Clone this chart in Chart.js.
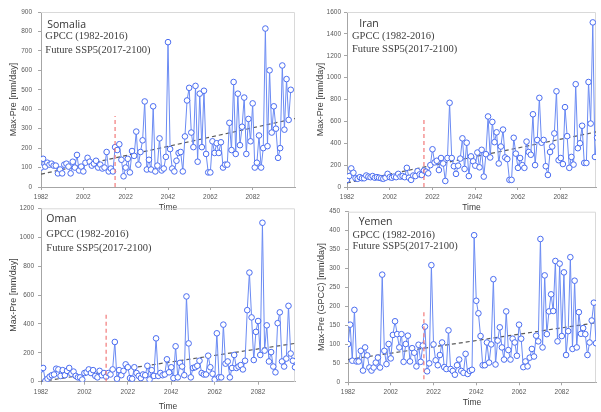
<!DOCTYPE html>
<html>
<head>
<meta charset="utf-8">
<script src="https://cdn.jsdelivr.net/npm/chart.js@4"></script>
<style>
    body { margin: 0; background: #fff; width: 601px; height: 412px; position: relative; overflow: hidden; }
    canvas { position: absolute; }
</style>
</head>
<body>
<canvas id="somalia" width="300" height="214" style="left:0;top:0"></canvas>
<canvas id="iran" width="301" height="214" style="left:300px;top:0"></canvas>
<canvas id="oman" width="300" height="212" style="left:0;top:200px"></canvas>
<canvas id="yemen" width="301" height="212" style="left:300px;top:200px"></canvas>
<script>
(function () {
    'use strict';

    // YEARS 1982-2100, ONE VALUE PER YEAR
    var years = [];
    for (var yr = 1982; yr <= 2100; yr++) { years.push(yr); }
    var xTicks = [1982, 2002, 2022, 2042, 2062, 2082];

    var somaliaMaxPre = [100, 145, 105, 125, 115, 120, 110, 110, 70, 90, 70, 115, 120, 105, 70, 130, 100, 165, 85, 105,
        80, 125, 150, 130, 110, 120, 135, 100, 115, 95, 100, 180, 80, 95, 80,
        205, 190, 220, 140, 55, 100, 145, 75, 185, 160, 285, 115, 180, 240, 440, 90, 140, 90, 415, 80,
        110, 250, 85, 95, 155, 745, 195, 95, 80, 135, 175, 180, 80, 260, 445, 510, 280, 205, 520, 130,
        480, 205, 495, 170, 75, 75, 235, 175, 225, 175, 230, 100, 115, 115, 330, 190, 540, 170, 480, 215,
        310, 460, 170, 350, 235, 430, 100, 125, 265, 100, 200, 815, 210, 600, 280, 415, 300, 150, 200, 625,
        295, 555, 345, 500];

    var iranMaxPre = [65, 100, 170, 130, 80, 75, 90, 80, 80, 105, 95, 90, 100, 85, 90, 85, 80, 75, 85, 120,
        90, 85, 95, 90, 120, 95, 100, 90, 175, 85, 65, 105, 100, 145, 115,
        110, 150, 140, 125, 200, 345, 225, 240, 155, 265, 215, 55, 265, 770, 265, 190, 120, 195, 260, 445,
        165, 405, 100, 280, 235, 195, 315, 180, 340, 95, 300, 645, 270, 595, 410, 500, 215, 370, 525, 270,
        255, 65, 65, 450, 305, 175, 265, 200, 175, 415, 320, 295, 665, 200, 430, 815, 405, 430, 190, 110,
        320, 370, 490, 875, 245, 265, 210, 730, 465, 175, 275, 205, 940, 355, 400, 560, 220, 220, 960, 580,
        1505, 275, 450, 230];

    var omanMaxPre = [85, 95, 5, 20, 35, 45, 50, 90, 85, 40, 80, 45, 75, 95, 55, 70, 40, 30, 30, 15,
        60, 65, 85, 60, 80, 40, 30, 75, 45, 60, 35,
        60, 50, 85, 275, 20, 80, 45, 75, 120, 100, 25, 20, 100, 60, 40, 25, 50, 45, 110, 15,
        80, 40, 300, 40, 60, 45, 50, 155, 65, 100, 25, 245, 30, 130, 105, 45, 590, 265, 30, 95,
        100, 110, 145, 60, 50, 50, 180, 100, 55, 15, 335, 30, 30, 395, 125, 140, 30, 95, 185, 95,
        105, 115, 85, 145, 495, 755, 445, 150, 345, 420, 185, 1100, 215, 390, 140, 205, 105, 65, 405, 480,
        140, 105, 160, 525, 195, 145, 100, 120];

    var yemenMaxPre = [101, 152, 57, 191, 55, 55, 83, 31, 92, 71, 39, 31, 39, 52, 65, 39, 284, 83, 48, 101,
        63, 125, 161, 127, 92, 127, 54, 101, 123, 55, 90, 78, 42, 99, 54, 97, 147, 29, 50, 309,
        100, 58, 45, 72, 105, 40, 35, 137, 35, 30, 20, 45, 60, 30, 25, 75, 22, 30, 33, 388,
        215, 182, 122, 45, 45, 105, 52, 100, 272, 47, 110, 145, 92, 60, 187, 85, 60, 115, 105, 70,
        152, 115, 40, 55, 42, 65, 88, 68, 123, 108, 378, 92, 282, 127, 187, 232, 188, 320, 108, 313,
        122, 290, 72, 135, 330, 88, 268, 92, 185, 128, 143, 127, 72, 105, 163, 210, 103, 48, 60];

    // LINEAR TRENDS (START / END) AND THE 2016 SPLIT MARKER
    var somaliaTrend = [[1982, 66], [2102, 352]];
    var iranTrend = [[1982, 38], [2099, 505]];
    var omanTrend = [[1982, 2], [2099, 265]];
    var yemenTrend = [[1982, 60], [2098, 157]];

    var somaliaSplit = [[2017, 0], [2017, 365]];
    var iranSplit = [[2018, 0], [2018, 630]];
    var omanSplit = [[2012, 0], [2012, 470]];
    var yemenSplit = [[2017.5, 8], [2017.5, 190]];

    var LINE = '#6b8bf3';
    var MARK = '#4a6cf0';
    var AXIS = '#a6a6a6';
    var TEXT = '#404040';

    function pts(pairs) {
        return pairs.map(function (p) { return { x: p[0], y: p[1] }; });
    }

    // FRAME AROUND PLOT AREA + COUNTRY / PERIOD NOTES
    var panelText = {
        id: 'panelText',
        beforeDatasetsDraw: function (chart) {
            var a = chart.chartArea, ctx = chart.ctx;
            ctx.save();
            ctx.strokeStyle = '#d9d9d9';
            ctx.lineWidth = 1;
            ctx.beginPath();
            ctx.moveTo(a.left, a.top + 0.5);
            ctx.lineTo(a.right - 0.5, a.top + 0.5);
            ctx.lineTo(a.right - 0.5, a.bottom);
            ctx.stroke();
            ctx.restore();
        },
        afterDraw: function (chart) {
            var o = chart.options.plugins.panelText;
            var a = chart.chartArea, ctx = chart.ctx;
            ctx.save();
            ctx.fillStyle = '#333';
            ctx.textBaseline = 'middle';
            ctx.font = '10.5px "Open Sans"';
            ctx.fillText(o.name, a.left + o.nx, a.top + o.ny);
            ctx.fillStyle = TEXT;
            ctx.font = '10.5px "Liberation Serif"';
            ctx.fillText('GPCC (1982-2016)', a.left + o.gx, a.top + o.gy);
            ctx.fillText('Future SSP5(2017-2100)', a.left + o.gx, a.top + o.fy);
            ctx.restore();
        }
    };

    function panel(id, values, o) {
        var series = values.map(function (v, i) { return { x: years[i], y: v }; });
        var tickFont = { family: 'Liberation Sans', size: 6.5 };

        new Chart(document.getElementById(id), {
            type: 'line',
            data: {
                datasets: [
                    {
                        data: series, borderColor: LINE, borderWidth: 1, tension: 0,
                        pointRadius: 2.8, pointBorderWidth: 1, pointBackgroundColor: '#fff',
                        pointBorderColor: MARK, order: 1
                    },
                    {
                        data: pts(o.trend), borderColor: '#5a5a5a', borderDash: [4, 3],
                        borderWidth: 1.2, pointRadius: 0, order: 2
                    },
                    {
                        data: pts(o.split), borderColor: '#f27a7a', borderDash: [4, 3],
                        borderWidth: 1.2, pointRadius: 0, order: 0
                    }
                ]
            },
            options: {
                responsive: false,
                animation: false,
                layout: { padding: { top: o.top, right: 0, bottom: 0, left: 0 } },
                plugins: {
                    legend: { display: false },
                    tooltip: { enabled: false },
                    panelText: o.text
                },
                scales: {
                    x: {
                        type: 'linear', min: 1982, max: o.xMax,
                        afterBuildTicks: function (s) {
                            s.ticks = xTicks.map(function (v) { return { value: v }; });
                        },
                        afterFit: function (s) { s.height = o.xH; },
                        ticks: {
                            callback: function (v) { return String(v); },
                            font: tickFont, color: '#595959', padding: 3.5,
                            maxRotation: 0, autoSkip: false
                        },
                        grid: { drawOnChartArea: false, tickLength: 3, color: AXIS },
                        border: { color: AXIS },
                        title: {
                            display: true, text: 'Time', color: '#3a3a3a',
                            font: { family: 'Liberation Sans', size: 8.5 },
                            padding: { top: 0, bottom: o.timePad }
                        }
                    },
                    y: {
                        min: 0, max: o.yMax,
                        afterFit: function (s) { s.width = o.yW; },
                        ticks: {
                            stepSize: o.step,
                            callback: function (v) { return String(v); },
                            font: tickFont, color: '#595959', padding: o.yPad
                        },
                        grid: { drawOnChartArea: false, tickLength: 3, color: AXIS },
                        border: { color: AXIS },
                        title: {
                            display: true, text: o.yTitle, color: TEXT,
                            font: { family: 'Liberation Sans', size: 9 },
                            padding: { top: o.yTitlePad, bottom: 0 }
                        }
                    }
                }
            },
            plugins: [panelText]
        });
    }

    panel('somalia', somaliaMaxPre, {
        top: 12, xMax: 2102, xH: 27, yW: 41, yMax: 900, step: 100, yPad: 6, yTitlePad: 8, timePad: 1.5,
        yTitle: 'Max-Pre [mm/day]', trend: somaliaTrend, split: somaliaSplit,
        text: { name: 'Somalia', nx: 6.3, ny: 13.3, gx: 4.3, gy: 24.3, fy: 38.3 }
    });

    panel('iran', iranMaxPre, {
        top: 12, xMax: 2098.5, xH: 27, yW: 47, yMax: 1600, step: 200, yPad: 3, yTitlePad: 15, timePad: 1.5,
        yTitle: 'Max-Pre [mm/day]', trend: iranTrend, split: iranSplit,
        text: { name: 'Iran', nx: 12.3, ny: 11.6, gx: 5, gy: 24.3, fy: 37.6 }
    });

    panel('oman', omanMaxPre, {
        top: 8.3, xMax: 2099, xH: 30.3, yW: 41, yMax: 1200, step: 200, yPad: 4, yTitlePad: 8, timePad: 0,
        yTitle: 'Max-Pre [mm/day]', trend: omanTrend, split: omanSplit,
        text: { name: 'Oman', nx: 5.3, ny: 10.7, gx: 5.3, gy: 26.4, fy: 40 }
    });

    panel('yemen', yemenMaxPre, {
        top: 11.7, xMax: 2098, xH: 29.7, yW: 48, yMax: 450, step: 50, yPad: 5, yTitlePad: 16.6, timePad: 4,
        yTitle: 'Max-Pre (GPCC) [mm/day]', trend: yemenTrend, split: yemenSplit,
        text: { name: 'Yemen', nx: 10.7, ny: 10.3, gx: 4.4, gy: 23.3, fy: 35 }
    });
})();
</script>
</body>
</html>
